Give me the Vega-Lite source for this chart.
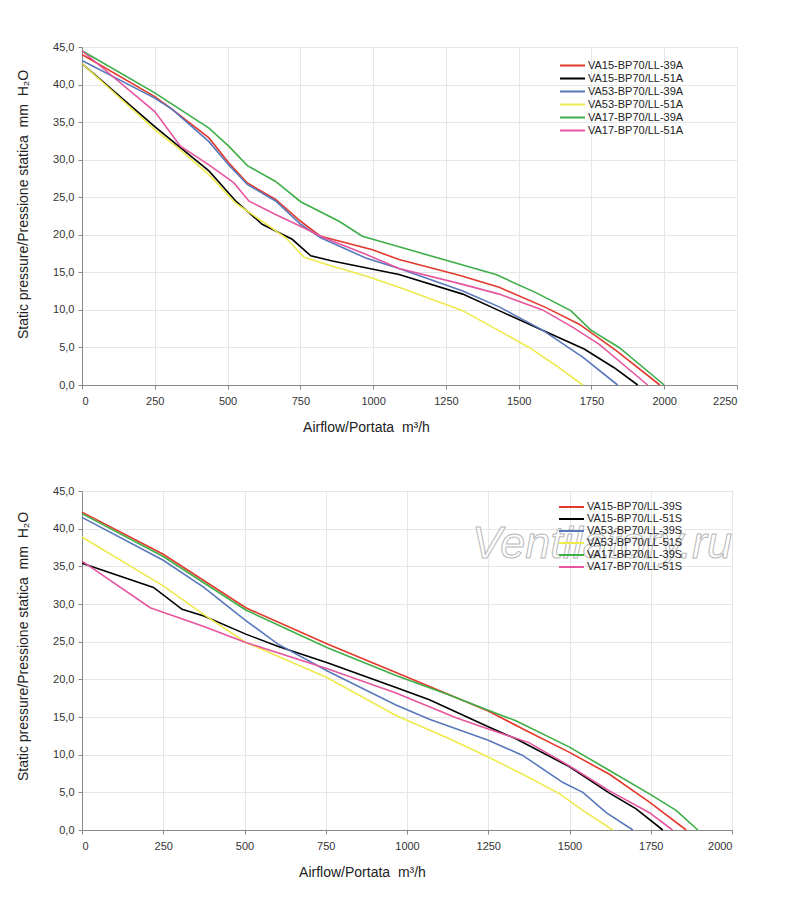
{
  "$schema": "https://vega.github.io/schema/vega-lite/v6.json",
  "padding": {"left": 16, "top": 40, "right": 5, "bottom": 5},
  "background": "white",
  "spacing": 49,
  "resolve": {"scale": {"color": "independent", "x": "independent", "y": "independent"}, "legend": {"color": "independent"}},
  "config": {
    "font": "Liberation Sans",
    "view": {"stroke": "#999", "strokeWidth": 1},
    "axis": {
      "labelFont": "Liberation Sans",
      "labelFontSize": 11,
      "labelColor": "#333",
      "titleFont": "Liberation Sans",
      "titleFontSize": 14,
      "titleFontWeight": "normal",
      "titleColor": "#222",
      "domainColor": "#888",
      "tickColor": "#888",
      "tickSize": 4,
      "gridColor": "#e6e6e6"
    },
    "legend": {
      "labelFont": "Liberation Sans",
      "labelFontSize": 11,
      "labelColor": "#222",
      "symbolType": "stroke",
      "symbolSize": 625,
      "symbolStrokeWidth": 2,
      "labelOffset": 2,
      "rowPadding": 0,
      "orient": "none",
      "title": null
    }
  },
  "datasets": {
    "top": [
      {"model": "VA15-BP70/LL-39A", "airflow": 0, "pressure": 44.0},
      {"model": "VA15-BP70/LL-39A", "airflow": 250, "pressure": 38.4},
      {"model": "VA15-BP70/LL-39A", "airflow": 310, "pressure": 36.7},
      {"model": "VA15-BP70/LL-39A", "airflow": 436, "pressure": 32.9},
      {"model": "VA15-BP70/LL-39A", "airflow": 504, "pressure": 29.6},
      {"model": "VA15-BP70/LL-39A", "airflow": 568, "pressure": 26.9},
      {"model": "VA15-BP70/LL-39A", "airflow": 665, "pressure": 24.7},
      {"model": "VA15-BP70/LL-39A", "airflow": 751, "pressure": 21.8},
      {"model": "VA15-BP70/LL-39A", "airflow": 820, "pressure": 19.8},
      {"model": "VA15-BP70/LL-39A", "airflow": 998, "pressure": 18.0},
      {"model": "VA15-BP70/LL-39A", "airflow": 1089, "pressure": 16.7},
      {"model": "VA15-BP70/LL-39A", "airflow": 1296, "pressure": 14.6},
      {"model": "VA15-BP70/LL-39A", "airflow": 1433, "pressure": 13.0},
      {"model": "VA15-BP70/LL-39A", "airflow": 1594, "pressure": 10.3},
      {"model": "VA15-BP70/LL-39A", "airflow": 1708, "pressure": 8.1},
      {"model": "VA15-BP70/LL-39A", "airflow": 1834, "pressure": 4.6},
      {"model": "VA15-BP70/LL-39A", "airflow": 1985, "pressure": 0},
      {"model": "VA15-BP70/LL-51A", "airflow": 0, "pressure": 42.8},
      {"model": "VA15-BP70/LL-51A", "airflow": 250, "pressure": 34.4},
      {"model": "VA15-BP70/LL-51A", "airflow": 338, "pressure": 31.6},
      {"model": "VA15-BP70/LL-51A", "airflow": 436, "pressure": 28.5},
      {"model": "VA15-BP70/LL-51A", "airflow": 528, "pressure": 24.5},
      {"model": "VA15-BP70/LL-51A", "airflow": 619, "pressure": 21.4},
      {"model": "VA15-BP70/LL-51A", "airflow": 722, "pressure": 19.4},
      {"model": "VA15-BP70/LL-51A", "airflow": 786, "pressure": 17.2},
      {"model": "VA15-BP70/LL-51A", "airflow": 860, "pressure": 16.5},
      {"model": "VA15-BP70/LL-51A", "airflow": 1089, "pressure": 14.7},
      {"model": "VA15-BP70/LL-51A", "airflow": 1308, "pressure": 12.1},
      {"model": "VA15-BP70/LL-51A", "airflow": 1433, "pressure": 9.9},
      {"model": "VA15-BP70/LL-51A", "airflow": 1582, "pressure": 7.3},
      {"model": "VA15-BP70/LL-51A", "airflow": 1725, "pressure": 4.8},
      {"model": "VA15-BP70/LL-51A", "airflow": 1828, "pressure": 2.3},
      {"model": "VA15-BP70/LL-51A", "airflow": 1909, "pressure": 0},
      {"model": "VA53-BP70/LL-39A", "airflow": 0, "pressure": 43.2},
      {"model": "VA53-BP70/LL-39A", "airflow": 250, "pressure": 38.2},
      {"model": "VA53-BP70/LL-39A", "airflow": 310, "pressure": 36.7},
      {"model": "VA53-BP70/LL-39A", "airflow": 436, "pressure": 32.4},
      {"model": "VA53-BP70/LL-39A", "airflow": 504, "pressure": 29.3},
      {"model": "VA53-BP70/LL-39A", "airflow": 568, "pressure": 26.7},
      {"model": "VA53-BP70/LL-39A", "airflow": 665, "pressure": 24.5},
      {"model": "VA53-BP70/LL-39A", "airflow": 751, "pressure": 21.4},
      {"model": "VA53-BP70/LL-39A", "airflow": 820, "pressure": 19.6},
      {"model": "VA53-BP70/LL-39A", "airflow": 975, "pressure": 16.9},
      {"model": "VA53-BP70/LL-39A", "airflow": 1089, "pressure": 15.5},
      {"model": "VA53-BP70/LL-39A", "airflow": 1308, "pressure": 12.5},
      {"model": "VA53-BP70/LL-39A", "airflow": 1433, "pressure": 10.4},
      {"model": "VA53-BP70/LL-39A", "airflow": 1582, "pressure": 7.3},
      {"model": "VA53-BP70/LL-39A", "airflow": 1720, "pressure": 3.7},
      {"model": "VA53-BP70/LL-39A", "airflow": 1840, "pressure": 0},
      {"model": "VA53-BP70/LL-51A", "airflow": 0, "pressure": 42.8},
      {"model": "VA53-BP70/LL-51A", "airflow": 250, "pressure": 34.0},
      {"model": "VA53-BP70/LL-51A", "airflow": 338, "pressure": 31.3},
      {"model": "VA53-BP70/LL-51A", "airflow": 436, "pressure": 28.0},
      {"model": "VA53-BP70/LL-51A", "airflow": 528, "pressure": 24.2},
      {"model": "VA53-BP70/LL-51A", "airflow": 619, "pressure": 21.8},
      {"model": "VA53-BP70/LL-51A", "airflow": 700, "pressure": 19.6},
      {"model": "VA53-BP70/LL-51A", "airflow": 763, "pressure": 17.0},
      {"model": "VA53-BP70/LL-51A", "airflow": 860, "pressure": 15.8},
      {"model": "VA53-BP70/LL-51A", "airflow": 975, "pressure": 14.5},
      {"model": "VA53-BP70/LL-51A", "airflow": 1089, "pressure": 13.0},
      {"model": "VA53-BP70/LL-51A", "airflow": 1308, "pressure": 9.9},
      {"model": "VA53-BP70/LL-51A", "airflow": 1410, "pressure": 7.7},
      {"model": "VA53-BP70/LL-51A", "airflow": 1536, "pressure": 5.0},
      {"model": "VA53-BP70/LL-51A", "airflow": 1628, "pressure": 2.6},
      {"model": "VA53-BP70/LL-51A", "airflow": 1720, "pressure": 0},
      {"model": "VA17-BP70/LL-39A", "airflow": 0, "pressure": 44.5},
      {"model": "VA17-BP70/LL-39A", "airflow": 250, "pressure": 38.9},
      {"model": "VA17-BP70/LL-39A", "airflow": 436, "pressure": 34.2},
      {"model": "VA17-BP70/LL-39A", "airflow": 504, "pressure": 31.8},
      {"model": "VA17-BP70/LL-39A", "airflow": 568, "pressure": 29.2},
      {"model": "VA17-BP70/LL-39A", "airflow": 665, "pressure": 27.1},
      {"model": "VA17-BP70/LL-39A", "airflow": 751, "pressure": 24.4},
      {"model": "VA17-BP70/LL-39A", "airflow": 883, "pressure": 21.8},
      {"model": "VA17-BP70/LL-39A", "airflow": 963, "pressure": 19.8},
      {"model": "VA17-BP70/LL-39A", "airflow": 1089, "pressure": 18.4},
      {"model": "VA17-BP70/LL-39A", "airflow": 1422, "pressure": 14.7},
      {"model": "VA17-BP70/LL-39A", "airflow": 1559, "pressure": 12.3},
      {"model": "VA17-BP70/LL-39A", "airflow": 1679, "pressure": 9.9},
      {"model": "VA17-BP70/LL-39A", "airflow": 1748, "pressure": 7.3},
      {"model": "VA17-BP70/LL-39A", "airflow": 1845, "pressure": 5.0},
      {"model": "VA17-BP70/LL-39A", "airflow": 2000, "pressure": 0},
      {"model": "VA17-BP70/LL-51A", "airflow": 0, "pressure": 44.5},
      {"model": "VA17-BP70/LL-51A", "airflow": 250, "pressure": 36.4},
      {"model": "VA17-BP70/LL-51A", "airflow": 338, "pressure": 31.8},
      {"model": "VA17-BP70/LL-51A", "airflow": 436, "pressure": 29.3},
      {"model": "VA17-BP70/LL-51A", "airflow": 522, "pressure": 26.9},
      {"model": "VA17-BP70/LL-51A", "airflow": 573, "pressure": 24.5},
      {"model": "VA17-BP70/LL-51A", "airflow": 665, "pressure": 22.7},
      {"model": "VA17-BP70/LL-51A", "airflow": 774, "pressure": 20.7},
      {"model": "VA17-BP70/LL-51A", "airflow": 825, "pressure": 19.7},
      {"model": "VA17-BP70/LL-51A", "airflow": 975, "pressure": 17.4},
      {"model": "VA17-BP70/LL-51A", "airflow": 1089, "pressure": 15.5},
      {"model": "VA17-BP70/LL-51A", "airflow": 1308, "pressure": 13.4},
      {"model": "VA17-BP70/LL-51A", "airflow": 1433, "pressure": 12.1},
      {"model": "VA17-BP70/LL-51A", "airflow": 1582, "pressure": 10.0},
      {"model": "VA17-BP70/LL-51A", "airflow": 1685, "pressure": 7.7},
      {"model": "VA17-BP70/LL-51A", "airflow": 1777, "pressure": 5.4},
      {"model": "VA17-BP70/LL-51A", "airflow": 1943, "pressure": 0}
    ],
    "bottom": [
      {"model": "VA15-BP70/LL-39S", "airflow": 0, "pressure": 42.2},
      {"model": "VA15-BP70/LL-39S", "airflow": 250, "pressure": 36.6},
      {"model": "VA15-BP70/LL-39S", "airflow": 504, "pressure": 29.5},
      {"model": "VA15-BP70/LL-39S", "airflow": 755, "pressure": 24.7},
      {"model": "VA15-BP70/LL-39S", "airflow": 966, "pressure": 20.9},
      {"model": "VA15-BP70/LL-39S", "airflow": 1250, "pressure": 15.8},
      {"model": "VA15-BP70/LL-39S", "airflow": 1375, "pressure": 13.0},
      {"model": "VA15-BP70/LL-39S", "airflow": 1500, "pressure": 10.3},
      {"model": "VA15-BP70/LL-39S", "airflow": 1623, "pressure": 7.4},
      {"model": "VA15-BP70/LL-39S", "airflow": 1746, "pressure": 3.7},
      {"model": "VA15-BP70/LL-39S", "airflow": 1859, "pressure": 0},
      {"model": "VA15-BP70/LL-51S", "airflow": 0, "pressure": 35.4},
      {"model": "VA15-BP70/LL-51S", "airflow": 220, "pressure": 32.2},
      {"model": "VA15-BP70/LL-51S", "airflow": 308, "pressure": 29.3},
      {"model": "VA15-BP70/LL-51S", "airflow": 375, "pressure": 28.4},
      {"model": "VA15-BP70/LL-51S", "airflow": 504, "pressure": 26.0},
      {"model": "VA15-BP70/LL-51S", "airflow": 602, "pressure": 24.4},
      {"model": "VA15-BP70/LL-51S", "airflow": 755, "pressure": 22.2},
      {"model": "VA15-BP70/LL-51S", "airflow": 966, "pressure": 18.9},
      {"model": "VA15-BP70/LL-51S", "airflow": 1069, "pressure": 17.3},
      {"model": "VA15-BP70/LL-51S", "airflow": 1250, "pressure": 13.7},
      {"model": "VA15-BP70/LL-51S", "airflow": 1335, "pressure": 12.1},
      {"model": "VA15-BP70/LL-51S", "airflow": 1500, "pressure": 8.4},
      {"model": "VA15-BP70/LL-51S", "airflow": 1623, "pressure": 4.9},
      {"model": "VA15-BP70/LL-51S", "airflow": 1705, "pressure": 2.8},
      {"model": "VA15-BP70/LL-51S", "airflow": 1787, "pressure": 0},
      {"model": "VA53-BP70/LL-39S", "airflow": 0, "pressure": 41.5},
      {"model": "VA53-BP70/LL-39S", "airflow": 250, "pressure": 35.8},
      {"model": "VA53-BP70/LL-39S", "airflow": 375, "pressure": 32.2},
      {"model": "VA53-BP70/LL-39S", "airflow": 504, "pressure": 27.8},
      {"model": "VA53-BP70/LL-39S", "airflow": 602, "pressure": 24.7},
      {"model": "VA53-BP70/LL-39S", "airflow": 755, "pressure": 21.1},
      {"model": "VA53-BP70/LL-39S", "airflow": 966, "pressure": 16.6},
      {"model": "VA53-BP70/LL-39S", "airflow": 1069, "pressure": 14.7},
      {"model": "VA53-BP70/LL-39S", "airflow": 1250, "pressure": 11.9},
      {"model": "VA53-BP70/LL-39S", "airflow": 1356, "pressure": 9.9},
      {"model": "VA53-BP70/LL-39S", "airflow": 1480, "pressure": 6.3},
      {"model": "VA53-BP70/LL-39S", "airflow": 1541, "pressure": 5.0},
      {"model": "VA53-BP70/LL-39S", "airflow": 1613, "pressure": 2.3},
      {"model": "VA53-BP70/LL-39S", "airflow": 1695, "pressure": 0},
      {"model": "VA53-BP70/LL-51S", "airflow": 0, "pressure": 38.9},
      {"model": "VA53-BP70/LL-51S", "airflow": 250, "pressure": 32.4},
      {"model": "VA53-BP70/LL-51S", "airflow": 375, "pressure": 28.6},
      {"model": "VA53-BP70/LL-51S", "airflow": 504, "pressure": 24.9},
      {"model": "VA53-BP70/LL-51S", "airflow": 755, "pressure": 20.2},
      {"model": "VA53-BP70/LL-51S", "airflow": 966, "pressure": 15.2},
      {"model": "VA53-BP70/LL-51S", "airflow": 1120, "pressure": 12.3},
      {"model": "VA53-BP70/LL-51S", "airflow": 1250, "pressure": 9.7},
      {"model": "VA53-BP70/LL-51S", "airflow": 1356, "pressure": 7.4},
      {"model": "VA53-BP70/LL-51S", "airflow": 1470, "pressure": 4.8},
      {"model": "VA53-BP70/LL-51S", "airflow": 1541, "pressure": 2.6},
      {"model": "VA53-BP70/LL-51S", "airflow": 1633, "pressure": 0},
      {"model": "VA17-BP70/LL-39S", "airflow": 0, "pressure": 42.0},
      {"model": "VA17-BP70/LL-39S", "airflow": 250, "pressure": 36.3},
      {"model": "VA17-BP70/LL-39S", "airflow": 504, "pressure": 29.2},
      {"model": "VA17-BP70/LL-39S", "airflow": 755, "pressure": 24.2},
      {"model": "VA17-BP70/LL-39S", "airflow": 966, "pressure": 20.5},
      {"model": "VA17-BP70/LL-39S", "airflow": 1120, "pressure": 18.1},
      {"model": "VA17-BP70/LL-39S", "airflow": 1250, "pressure": 15.9},
      {"model": "VA17-BP70/LL-39S", "airflow": 1335, "pressure": 14.5},
      {"model": "VA17-BP70/LL-39S", "airflow": 1500, "pressure": 11.0},
      {"model": "VA17-BP70/LL-39S", "airflow": 1623, "pressure": 7.9},
      {"model": "VA17-BP70/LL-39S", "airflow": 1746, "pressure": 4.8},
      {"model": "VA17-BP70/LL-39S", "airflow": 1828, "pressure": 2.6},
      {"model": "VA17-BP70/LL-39S", "airflow": 1895, "pressure": 0},
      {"model": "VA17-BP70/LL-51S", "airflow": 0, "pressure": 35.7},
      {"model": "VA17-BP70/LL-51S", "airflow": 210, "pressure": 29.5},
      {"model": "VA17-BP70/LL-51S", "airflow": 375, "pressure": 27.0},
      {"model": "VA17-BP70/LL-51S", "airflow": 504, "pressure": 24.9},
      {"model": "VA17-BP70/LL-51S", "airflow": 755, "pressure": 21.4},
      {"model": "VA17-BP70/LL-51S", "airflow": 966, "pressure": 18.2},
      {"model": "VA17-BP70/LL-51S", "airflow": 1151, "pressure": 14.9},
      {"model": "VA17-BP70/LL-51S", "airflow": 1250, "pressure": 13.4},
      {"model": "VA17-BP70/LL-51S", "airflow": 1375, "pressure": 11.6},
      {"model": "VA17-BP70/LL-51S", "airflow": 1500, "pressure": 8.5},
      {"model": "VA17-BP70/LL-51S", "airflow": 1623, "pressure": 5.2},
      {"model": "VA17-BP70/LL-51S", "airflow": 1746, "pressure": 2.3},
      {"model": "VA17-BP70/LL-51S", "airflow": 1817, "pressure": 0}
    ],
    "watermark": [
      {"airflow": 1600, "pressure": 38.0, "label": "Ventilatory.ru"}
    ]
  },
  "vconcat": [
    {
      "width": 655,
      "height": 338,
      "data": {"name": "top"},
      "mark": {"type": "line", "strokeWidth": 1.6},
      "encoding": {
        "x": {
          "field": "airflow",
          "type": "quantitative",
          "scale": {"domain": [0, 2250], "nice": false},
          "axis": {
            "title": "Airflow/Portata\u00a0 m³/h",
            "values": [0, 250, 500, 750, 1000, 1250, 1500, 1750, 2000, 2250],
            "format": "d",
            "labelPadding": 6,
            "titlePadding": 14,
            "titleX": 284
          }
        },
        "y": {
          "field": "pressure",
          "type": "quantitative",
          "scale": {"domain": [0, 45], "nice": false},
          "axis": {
            "title": "Static pressure/Pressione statica\u00a0 mm\u00a0 H₂O",
            "values": [0, 5, 10, 15, 20, 25, 30, 35, 40, 45],
            "labelExpr": "replace(format(datum.value, '.1f'), '.', ',')",
            "labelPadding": 4,
            "titlePadding": 22,
            "titleY": 157
          }
        },
        "color": {
          "field": "model",
          "type": "nominal",
          "scale": {
            "domain": ["VA15-BP70/LL-39A", "VA15-BP70/LL-51A", "VA53-BP70/LL-39A", "VA53-BP70/LL-51A", "VA17-BP70/LL-39A", "VA17-BP70/LL-51A"],
            "range": ["#e2392d", "#000000", "#5878bb", "#eeea4e", "#3dae48", "#e6559f"]
          },
          "legend": {"legendX": 477, "legendY": 12, "clipHeight": 13}
        }
      }
    },
    {
      "width": 650,
      "height": 339,
      "encoding": {
        "x": {
          "field": "airflow",
          "type": "quantitative",
          "scale": {"domain": [0, 2000], "nice": false},
          "axis": {
            "title": "Airflow/Portata\u00a0 m³/h",
            "values": [0, 250, 500, 750, 1000, 1250, 1500, 1750, 2000],
            "format": "d",
            "labelPadding": 6,
            "titlePadding": 14,
            "titleX": 280
          }
        },
        "y": {
          "field": "pressure",
          "type": "quantitative",
          "scale": {"domain": [0, 45], "nice": false},
          "axis": {
            "title": "Static pressure/Pressione statica\u00a0 mm\u00a0 H₂O",
            "values": [0, 5, 10, 15, 20, 25, 30, 35, 40, 45],
            "labelExpr": "replace(format(datum.value, '.1f'), '.', ',')",
            "labelPadding": 4,
            "titlePadding": 22,
            "titleY": 155
          }
        }
      },
      "layer": [
        {
          "data": {"name": "bottom"},
          "mark": {"type": "line", "strokeWidth": 1.6},
          "encoding": {
            "color": {
              "field": "model",
              "type": "nominal",
              "scale": {
                "domain": ["VA15-BP70/LL-39S", "VA15-BP70/LL-51S", "VA53-BP70/LL-39S", "VA53-BP70/LL-51S", "VA17-BP70/LL-39S", "VA17-BP70/LL-51S"],
                "range": ["#e2392d", "#000000", "#5878bb", "#eeea4e", "#3dae48", "#e6559f"]
              },
              "legend": {"legendX": 476, "legendY": 10, "clipHeight": 12}
            }
          }
        },
        {
          "data": {"name": "watermark"},
          "mark": {
            "type": "text",
            "font": "Liberation Sans",
            "fontSize": 45,
            "fontStyle": "italic",
            "fill": "#ffffff",
            "fillOpacity": 0.5,
            "stroke": "#b8b8b8",
            "strokeWidth": 1,
            "align": "center",
            "baseline": "middle"
          },
          "encoding": {
            "text": {"field": "label"}
          }
        }
      ]
    }
  ]
}
